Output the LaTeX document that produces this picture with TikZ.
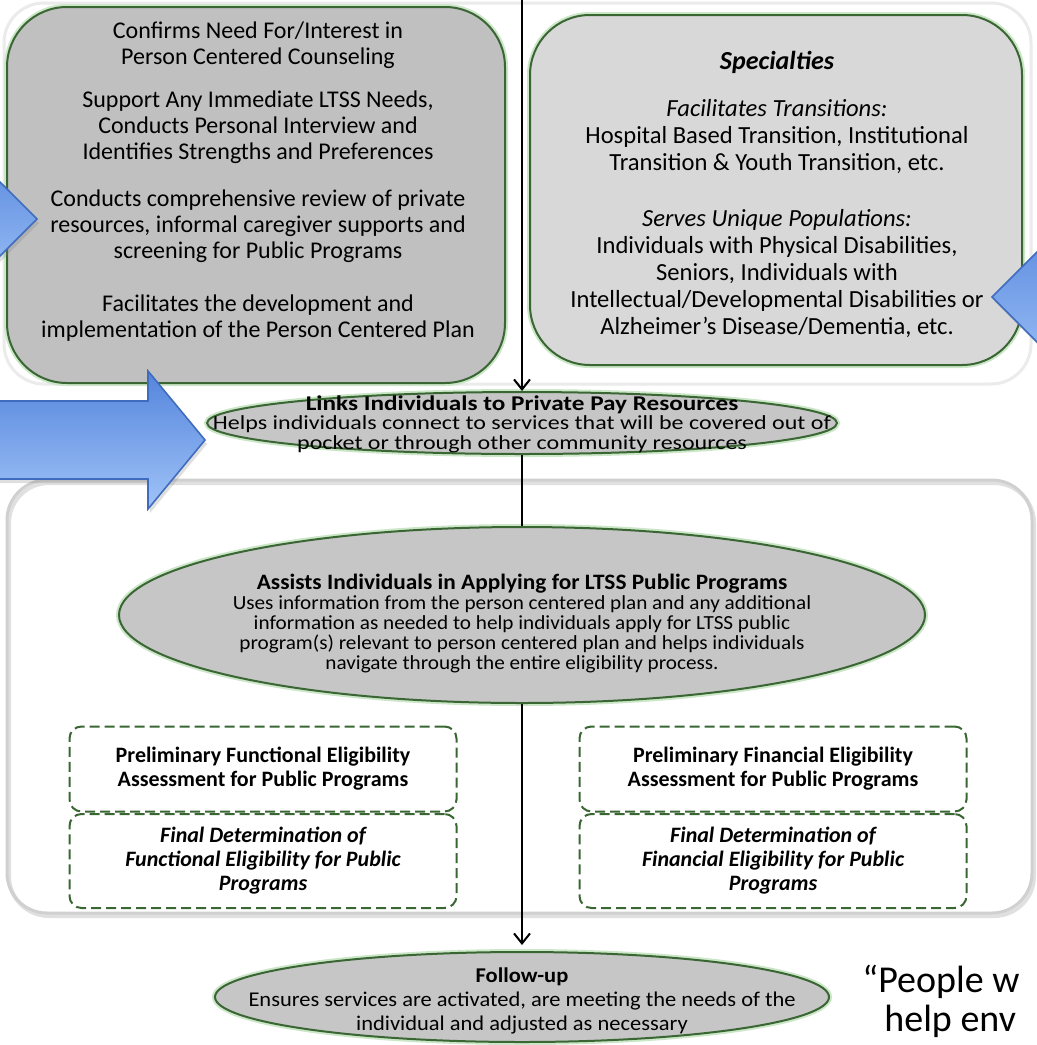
\documentclass[tikz,border=0pt]{standalone}
\usepackage{fontspec}
\setmainfont{Carlito}
\usetikzlibrary{shapes.geometric,arrows.meta,shadows}

\definecolor{boxgreen}{RGB}{58,102,52}
\definecolor{glowgreen}{RGB}{204,230,200}
\definecolor{darkfill}{RGB}{192,192,192}
\definecolor{lightfill}{RGB}{216,216,216}
\definecolor{ovalfill}{RGB}{198,198,198}
\definecolor{framegray}{RGB}{208,208,208}
\definecolor{arrowtop}{RGB}{84,132,220}
\definecolor{arrowbot}{RGB}{160,196,248}
\definecolor{arrowedge}{RGB}{64,108,190}

\tikzset{
  panel/.style={draw=boxgreen, line width=1pt, rounded corners=30pt,
    preaction={draw=glowgreen, line width=3pt}},
  paneltext/.style={align=center, inner sep=0pt, font=\fontsize{12}{13}\selectfont},
  oval/.style={ellipse, draw=boxgreen, line width=1pt, fill=ovalfill, inner sep=0pt,
    preaction={draw=glowgreen, line width=3pt}},
  ovaltext/.style={align=center, inner sep=0pt, font=\fontsize{10}{9.8}\selectfont},
  stagebox/.style={draw=boxgreen, line width=1pt, dash pattern=on 5pt off 2.5pt,
    rounded corners=6pt, fill=white, align=center, inner sep=0pt,
    minimum width=193.5pt, font=\fontsize{11}{12}\selectfont\bfseries},
  outerframe/.style={draw=framegray, line width=1.5pt, rounded corners=20pt},
  flow/.style={line width=1pt, black},
  bluearrow/.style={draw=arrowedge, line width=0.8pt, top color=arrowtop,
    bottom color=arrowbot,
    drop shadow={opacity=0.25, shadow xshift=1pt, shadow yshift=-2pt}},
  quotetext/.style={inner sep=0pt, font=\fontsize{19}{19}\selectfont}
}

\begin{document}
\begin{tikzpicture}[x=0.5pt,y=-0.5pt]
  \useasboundingbox[fill=white] (0,0) rectangle (1037,1045);
  %
  % frames round the two rows
  \draw[outerframe, draw=black!8] (4,3) rectangle (1031,384);
  \draw[line width=2pt, black!12, rounded corners=20pt] (9,483) rectangle (1034,916);
  \draw[outerframe] (7,480) rectangle (1032,913);
  %
  % top row
  \node[panel, fill=darkfill, minimum width=249pt, minimum height=188pt] (needs) at (256,195) {};
  \node[panel, fill=lightfill, minimum width=246pt, minimum height=175pt] (special) at (776,190) {};
  \node[paneltext, anchor=north] (needsText) at (258,21) {Confirms Need For/Interest in\\
    Person Centered Counseling\\[8.5pt]
    Support Any Immediate LTSS Needs,\\
    Conducts Personal Interview and\\
    Identifies Strengths and Preferences\\[10.5pt]
    Conducts comprehensive review of private\\
    resources, informal caregiver supports and\\
    screening for Public Programs\\[13.5pt]
    Facilitates the development and\\
    implementation of the Person Centered Plan};
  \node[inner sep=0pt, font=\fontsize{13}{14}\selectfont\bfseries\itshape] (specialHead) at (777,62) {Specialties};
  \node[paneltext, font=\fontsize{12.3}{13.5}\selectfont, anchor=north] (specialText) at (777,99) {\textit{Facilitates Transitions:}\\
    Hospital Based Transition, Institutional\\
    Transition \& Youth Transition, etc.\\[14.5pt]
    \textit{Serves Unique Populations:}\\
    Individuals with Physical Disabilities,\\
    Seniors, Individuals with\\
    Intellectual/Developmental Disabilities or\\
    Alzheimer’s Disease/Dementia, etc.};
  %
  % ovals
  \node[oval, minimum width=315pt, minimum height=31pt] (links) at (522,423) {};
  \node[ovaltext, font=\fontsize{10}{9.8}\selectfont\addfontfeature{FakeStretch=1.2}] (linksText) at (522,424) {\textbf{\fontsize{10.5}{9.8}\selectfont Links Individuals to Private Pay Resources}\\
    Helps individuals connect to services that will be covered out of\\
    pocket or through other community resources};
  \node[oval, minimum width=403pt, minimum height=88pt] (apply) at (522,615) {};
  \node[ovaltext, font=\fontsize{10}{10}\selectfont\addfontfeature{FakeStretch=1.06}] (applyText) at (522,623) {\textbf{\fontsize{11}{10}\selectfont Assists Individuals in Applying for LTSS Public Programs}\\
    Uses information from the person centered plan and any additional\\
    information as needed to help individuals apply for LTSS public\\
    program(s) relevant to person centered plan and helps individuals\\
    navigate through the entire eligibility process.};
  \node[oval, minimum width=307pt, minimum height=45pt] (follow) at (522,997) {};
  \node[ovaltext, font=\fontsize{10.5}{12}\selectfont\addfontfeature{FakeStretch=1.07}] (followText) at (522,1001) {\textbf{Follow-up}\\
    Ensures services are activated, are meeting the needs of the\\
    individual and adjusted as necessary};
  %
  % eligibility steps
  \node[stagebox, minimum height=42.5pt] (funcPre) at (263,769) {Preliminary Functional Eligibility\\Assessment for Public Programs};
  \node[stagebox, minimum height=47pt, font=\fontsize{11}{12}\selectfont\bfseries\itshape] (funcFinal) at (263,861) {Final Determination of\\Functional Eligibility for Public\\Programs};
  \node[stagebox, minimum height=42.5pt] (finPre) at (773,769) {Preliminary Financial Eligibility\\Assessment for Public Programs};
  \node[stagebox, minimum height=47pt, font=\fontsize{11}{12}\selectfont\bfseries\itshape] (finFinal) at (773,861) {Final Determination of\\Financial Eligibility for Public\\Programs};
  %
  % connectors
  \coordinate (src) at (522,0);
  \draw[flow, -{Straight Barb[length=5pt,width=8pt]}] (src) -- (links);
  \draw[flow] (links) -- (apply);
  \draw[flow, -{Straight Barb[length=5pt,width=8pt]}, shorten >=3pt] (apply) -- (follow);
  %
  % blue arrows
  \draw[bluearrow] (-40,142) -- (37,219) -- (-40,296) -- cycle;
  \draw[bluearrow] (1080,209) -- (992,297) -- (1080,385) -- cycle;
  \draw[bluearrow] (-20,401) -- (148,401) -- (148,371) -- (205,440) -- (148,509) -- (148,479) -- (-20,479) -- cycle;
  %
  % quote
  \node[quotetext, anchor=base west] (quoteA) at (862,992) {“People w};
  \node[quotetext, anchor=base west] (quoteB) at (884,1031) {help env};
\end{tikzpicture}
\end{document}
